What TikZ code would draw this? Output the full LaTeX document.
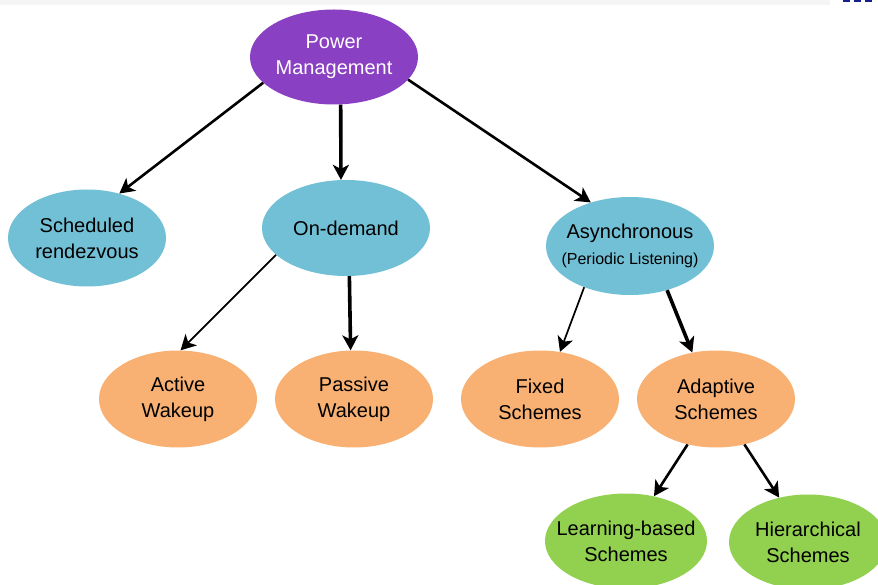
\documentclass[tikz,border=0pt]{standalone}
\usepackage{fontspec}
\setmainfont{Liberation Sans}
\usetikzlibrary{shapes.geometric,arrows.meta}
\definecolor{pmpurple}{RGB}{138,64,194}
\definecolor{lvlblue}{RGB}{114,192,213}
\definecolor{lvlorange}{RGB}{248,176,115}
\definecolor{lvlgreen}{RGB}{146,208,80}
\definecolor{bandgray}{RGB}{245,245,245}
\definecolor{navyfrag}{RGB}{20,30,140}
\tikzset{
  bubble/.style={ellipse, inner xsep=-16pt, inner ysep=-4pt, align=center, text=black,
    font=\fontsize{20}{26}\selectfont},
  wide/.style={minimum width=158pt, minimum height=97pt},
  tip/.style={-{Stealth[length=15pt,width=16pt,inset=4pt]}},
  thinarrow/.style={tip, line width=1.7pt},
  midarrow/.style={tip, line width=2.6pt},
  heavyarrow/.style={tip, line width=3.6pt},
}
\begin{document}
\begin{tikzpicture}[x=1pt,y=-1pt]
\useasboundingbox (0,0) rectangle (878,585);
\clip (0,0) rectangle (878,585);

% thin header strip along the top edge
\fill[bandgray] (0,0) rectangle (830,5);
\fill[navyfrag] (843,0) rectangle (850,2);
\fill[navyfrag] (854,0) rectangle (861,2);
\fill[navyfrag] (865,0) rectangle (872,2);

% root
\node[bubble, fill=pmpurple, text=white, minimum width=168pt, minimum height=95pt]
  (pm) at (334,57) {Power\\Management};

% second level
\node[bubble, wide, fill=lvlblue] (sched) at (87,238) {Scheduled\\rendezvous};
\node[bubble, fill=lvlblue, minimum width=168pt, minimum height=96pt]
  (od) at (346,228) {On-demand};
\node[bubble, fill=lvlblue, minimum width=168pt, minimum height=98pt]
  (async) at (630,246) {Asynchronous\\\fontsize{16}{22}\selectfont(Periodic Listening)};

% third level
\node[bubble, wide, fill=lvlorange] (active) at (178,399) {Active\\Wakeup};
\node[bubble, wide, fill=lvlorange] (passive) at (354,399) {Passive\\Wakeup};
\node[bubble, wide, fill=lvlorange] (fixed) at (540,399) {Fixed\\Schemes};
\node[bubble, wide, fill=lvlorange] (adaptive) at (716,399) {Adaptive\\Schemes};

% fourth level
\node[bubble, fill=lvlgreen, minimum width=162pt, minimum height=95pt]
  (learn) at (626,541) {Learning-based\\Schemes};
\node[bubble, fill=lvlgreen, minimum width=158pt, minimum height=95pt]
  (hier) at (808,542) {Hierarchical\\Schemes};

% connectors
\draw[midarrow]   (pm.200.6) -- (sched.54.3);
\draw[heavyarrow] (pm.278.3) -- (od.96.2);
\draw[midarrow]   (pm.343.4) -- (async.132.9);

\draw[thinarrow]  (od.201.8) -- (active.87.6);
\draw[heavyarrow] (od.274.8) -- (passive.94.9);

\draw[thinarrow]  (async.222.3) -- (fixed.67);
\draw[heavyarrow] (async.310) -- (adaptive.117.1);

\draw[midarrow]   (adaptive.238) -- (learn.58.3);
\draw[midarrow]   (adaptive.302.2) -- (hier.123);
\end{tikzpicture}
\end{document}
